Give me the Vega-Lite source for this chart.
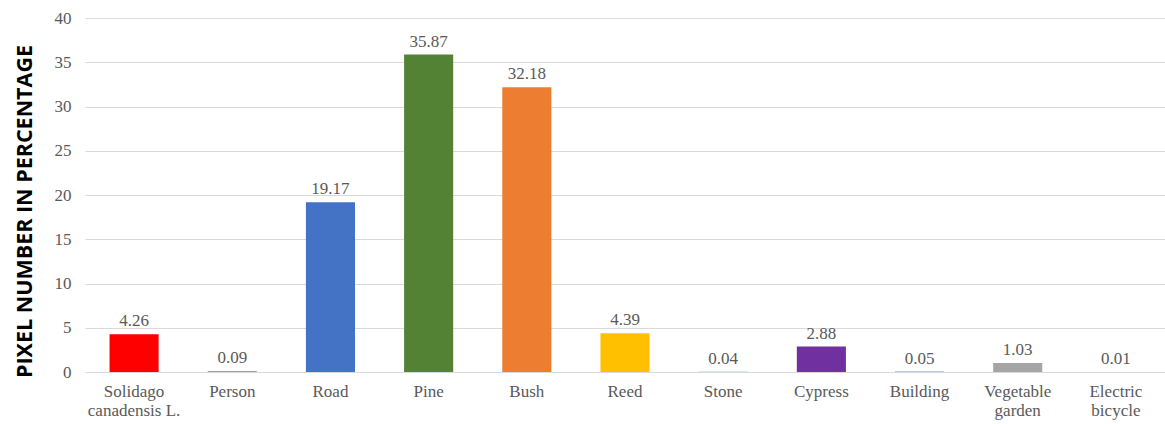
{
  "$schema": "https://vega.github.io/schema/vega-lite/v6.json",
  "width": 1080,
  "height": 354,
  "autosize": {"type": "none"},
  "padding": {"left": 85, "top": 18, "right": 0, "bottom": 52},
  "background": "white",
  "data": {
    "values": [
      {"category": "Solidago canadensis L.", "value": 4.26, "color": "#FF0000"},
      {"category": "Person", "value": 0.09, "color": "#7F7F7F"},
      {"category": "Road", "value": 19.17, "color": "#4472C4"},
      {"category": "Pine", "value": 35.87, "color": "#548235"},
      {"category": "Bush", "value": 32.18, "color": "#ED7D31"},
      {"category": "Reed", "value": 4.39, "color": "#FFC000"},
      {"category": "Stone", "value": 0.04, "color": "#5B9BD5"},
      {"category": "Cypress", "value": 2.88, "color": "#7030A0"},
      {"category": "Building", "value": 0.05, "color": "#70AD47"},
      {"category": "Vegetable garden", "value": 1.03, "color": "#A5A5A5"},
      {"category": "Electric bicycle", "value": 0.01, "color": "#264478"}
    ]
  },
  "config": {
    "view": {"stroke": null},
    "font": "Liberation Serif"
  },
  "encoding": {
    "x": {
      "field": "category",
      "type": "nominal",
      "sort": null,
      "scale": {"paddingInner": 0.5, "paddingOuter": 0.25},
      "axis": {
        "title": null,
        "labelAngle": 0,
        "domain": false,
        "ticks": false,
        "labelFont": "Liberation Serif",
        "labelFontSize": 17,
        "labelColor": "#595959",
        "labelPadding": 11,
        "labelLineHeight": 19,
        "labelExpr": "datum.label == 'Solidago canadensis L.' ? ['Solidago', 'canadensis L.'] : datum.label == 'Vegetable garden' ? ['Vegetable', 'garden'] : datum.label == 'Electric bicycle' ? ['Electric', 'bicycle'] : datum.label"
      }
    },
    "y": {
      "field": "value",
      "type": "quantitative",
      "scale": {"domain": [0, 40]},
      "axis": {
        "title": "PIXEL NUMBER IN PERCENTAGE",
        "titleFont": "Open Sans",
        "titleFontWeight": "bold",
        "titleFontSize": 21.5,
        "titleColor": "#000000",
        "titlePadding": 18,
        "titleY": 193,
        "values": [0, 5, 10, 15, 20, 25, 30, 35, 40],
        "domain": false,
        "ticks": false,
        "grid": true,
        "gridColor": "#D9D9D9",
        "gridWidth": 1,
        "labelFont": "Liberation Serif",
        "labelFontSize": 17,
        "labelColor": "#595959",
        "labelPadding": 14
      }
    }
  },
  "layer": [
    {
      "mark": {"type": "bar"},
      "encoding": {
        "color": {"field": "color", "type": "nominal", "scale": null, "legend": null}
      }
    },
    {
      "mark": {
        "type": "text",
        "baseline": "bottom",
        "dy": -4,
        "font": "Liberation Serif",
        "fontSize": 17,
        "color": "#595959"
      },
      "encoding": {
        "text": {"field": "value", "type": "quantitative", "format": ".2f"}
      }
    }
  ]
}
